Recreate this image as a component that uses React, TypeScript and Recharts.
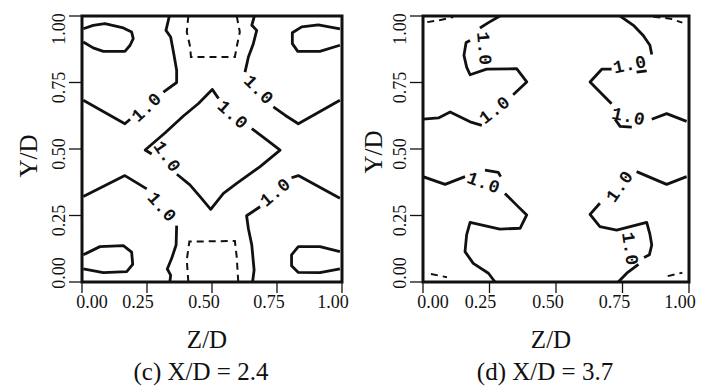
import {
  ComposedChart,
  Line,
  ReferenceArea,
  Scatter,
  XAxis,
  YAxis,
} from "recharts";

// contour level printed on every labelled line
const contourLevel = "1.0";
const axisTicks = [0, 0.25, 0.5, 0.75, 1];

// panel (c) X/D = 2.4 : [Z/D, Y/D] points along each contour piece
const cTopLeftIsland = [[0.005, 0.952], [0.043, 0.965], [0.088, 0.971], [0.159, 0.955], [0.191, 0.94], [0.197, 0.915], [0.185, 0.89], [0.165, 0.867], [0.082, 0.867], [0.043, 0.88], [0.005, 0.902]];
const cTopRightIsland = [[0.992, 0.952], [0.909, 0.967], [0.845, 0.959], [0.809, 0.937], [0.809, 0.896], [0.83, 0.867], [0.915, 0.867], [0.992, 0.89]];
const cBottomLeftIsland = [[0.005, 0.102], [0.069, 0.133], [0.159, 0.137], [0.191, 0.112], [0.195, 0.066], [0.172, 0.039], [0.082, 0.035], [0.005, 0.049]];
const cBottomRightIsland = [[0.992, 0.114], [0.915, 0.133], [0.832, 0.133], [0.806, 0.102], [0.806, 0.061], [0.832, 0.036], [0.915, 0.035], [0.992, 0.049]];
const cTopLeftUpper = [[0.336, 1.0], [0.323, 0.946], [0.341, 0.921], [0.354, 0.852], [0.364, 0.796], [0.364, 0.75], [0.313, 0.714]];
const cTopLeftLower = [[0.185, 0.612], [0.165, 0.595], [0.005, 0.683]];
const cTopRightUpper = [[0.663, 1.0], [0.653, 0.965], [0.672, 0.946], [0.659, 0.896], [0.64, 0.846], [0.627, 0.789]];
const cTopRightLower = [[0.736, 0.658], [0.781, 0.627], [0.832, 0.595], [0.992, 0.683]];
const cBottomLeftUpper = [[0.005, 0.321], [0.165, 0.4], [0.249, 0.35]];
const cBottomLeftLower = [[0.364, 0.212], [0.362, 0.139], [0.345, 0.089], [0.328, 0.049], [0.341, 0.026], [0.338, 0.0]];
const cBottomRightLower = [[0.656, 0.0], [0.662, 0.045], [0.653, 0.139], [0.64, 0.2], [0.633, 0.249], [0.685, 0.283]];
const cBottomRightUpper = [[0.806, 0.392], [0.832, 0.4], [0.992, 0.315]];
const cDiamondLower = [[0.365, 0.405], [0.415, 0.365], [0.454, 0.321], [0.495, 0.273], [0.544, 0.333], [0.595, 0.371], [0.685, 0.434], [0.762, 0.496], [0.703, 0.54], [0.653, 0.577]];
const cDiamondUpper = [[0.525, 0.69], [0.501, 0.724], [0.448, 0.671], [0.39, 0.624], [0.32, 0.561], [0.243, 0.496], [0.268, 0.481]];
const cTopDashed = [[0.409, 1.0], [0.403, 0.94], [0.416, 0.884], [0.419, 0.846], [0.588, 0.846], [0.595, 0.884], [0.607, 0.94], [0.595, 1.0]];
const cBottomDashed = [[0.409, 0.0], [0.403, 0.083], [0.413, 0.152], [0.588, 0.154], [0.595, 0.095], [0.601, 0.0]];
// [Z/D, Y/D, text angle]
const cLabels = [[0.25, 0.655, -43], [0.678, 0.721, 45], [0.306, 0.28, 48], [0.745, 0.335, -40], [0.325, 0.47, 55], [0.578, 0.627, 42]];

// panel (d) X/D = 3.7
const dTopLeftA = [[0.289, 1.0], [0.246, 0.975], [0.214, 0.955]];
const dTopLeftB = [[0.177, 0.908], [0.162, 0.9], [0.154, 0.852], [0.164, 0.808], [0.177, 0.779], [0.239, 0.8], [0.352, 0.802], [0.39, 0.752], [0.339, 0.704]];
const dTopLeftC = [[0.221, 0.589], [0.177, 0.602], [0.102, 0.639], [0.058, 0.617], [0.0, 0.612]];
const dTopRightA = [[0.741, 1.0], [0.791, 0.965], [0.828, 0.927], [0.853, 0.89], [0.86, 0.855]];
const dTopRightHook = [[0.803, 0.789], [0.841, 0.794]];
const dTopRightB = [[0.709, 0.8], [0.672, 0.8], [0.628, 0.752], [0.709, 0.67]];
const dTopRightC = [[0.86, 0.612], [0.916, 0.633], [0.991, 0.604]];
const dTopRightArc = [[0.722, 0.612], [0.741, 0.585], [0.785, 0.582]];
const dBottomLeftA = [[0.0, 0.396], [0.083, 0.367], [0.158, 0.396]];
const dBottomLeftHook = [[0.233, 0.421], [0.283, 0.412], [0.292, 0.396]];
const dBottomLeftB = [[0.308, 0.333], [0.352, 0.289], [0.39, 0.252], [0.365, 0.202], [0.289, 0.199], [0.177, 0.224], [0.164, 0.177], [0.158, 0.114], [0.189, 0.07], [0.246, 0.033], [0.271, 0.0]];
const dBottomRightA = [[0.991, 0.396], [0.916, 0.367], [0.803, 0.415]];
const dBottomRightB = [[0.665, 0.296], [0.628, 0.254], [0.665, 0.208], [0.728, 0.195], [0.841, 0.224], [0.853, 0.18], [0.86, 0.139], [0.851, 0.102], [0.831, 0.092]];
const dBottomRightC = [[0.81, 0.066], [0.766, 0.033], [0.734, 0.0]];
const dTopLeftDashed = [[0.016, 0.977], [0.07, 0.986], [0.114, 0.996]];
const dTopRightDashed = [[0.866, 0.997], [0.93, 0.99], [0.975, 0.975]];
const dBottomLeftDashed = [[0.03, 0.03], [0.09, 0.018]];
const dBottomRightDashed = [[0.92, 0.022], [0.975, 0.035]];
const dLabels = [[0.227, 0.877, 85], [0.271, 0.645, -38], [0.778, 0.815, -12], [0.772, 0.62, 12], [0.227, 0.371, 20], [0.741, 0.358, -55], [0.776, 0.124, 82]];

const toPoints = (pairs: number[][]) => pairs.map(([z, y]) => ({ z, y }));
const toLabels = (rows: number[][]) => rows.map(([z, y, angle]) => ({ z, y, angle }));

const panelC = {
  solid: [cTopLeftIsland, cTopRightIsland, cBottomLeftIsland, cBottomRightIsland, cTopLeftUpper, cTopLeftLower, cTopRightUpper, cTopRightLower, cBottomLeftUpper, cBottomLeftLower, cBottomRightLower, cBottomRightUpper, cDiamondLower, cDiamondUpper],
  dashed: [cTopDashed, cBottomDashed],
  labels: cLabels,
};

const panelD = {
  solid: [dTopLeftA, dTopLeftB, dTopLeftC, dTopRightA, dTopRightHook, dTopRightB, dTopRightC, dTopRightArc, dBottomLeftA, dBottomLeftHook, dBottomLeftB, dBottomRightA, dBottomRightB, dBottomRightC],
  dashed: [dTopLeftDashed, dTopRightDashed, dBottomLeftDashed, dBottomRightDashed],
  labels: dLabels,
};

const serif = "'Liberation Serif', 'Times New Roman', serif";
const ink = "#111";
const xTickShift = [10, -9, -8, -8, -9];
const yTickShift = [-9, 5, 5, 5, 13];

function XTick(props: any) {
  const { x, y, payload, index } = props;
  return (
    <text x={x + xTickShift[index]} y={y + 13} textAnchor="middle" fontSize={18} fontFamily={serif} fill={ink}>
      {Number(payload.value).toFixed(2)}
    </text>
  );
}

function YTick(props: any) {
  const { x, y, payload, index } = props;
  const tx = x - 4;
  const ty = y + yTickShift[index];
  return (
    <text x={tx} y={ty} transform={`rotate(-90 ${tx} ${ty})`} textAnchor="middle" fontSize={18} fontFamily={serif} fill={ink}>
      {Number(payload.value).toFixed(2)}
    </text>
  );
}

function ContourLabel(props: any) {
  const { cx, cy, payload } = props;
  return (
    <text
      x={cx}
      y={cy}
      transform={`rotate(${payload.angle} ${cx} ${cy})`}
      textAnchor="middle"
      dominantBaseline="central"
      fontSize={18}
      fontWeight="bold"
      letterSpacing={0.5}
      fontFamily="'Liberation Mono', monospace"
      fill={ink}
    >
      {contourLevel}
    </text>
  );
}

interface PanelProps {
  panel: { solid: number[][][]; dashed: number[][][]; labels: number[][] };
  width: number;
  marginLeft: number;
  marginRight: number;
}

function ContourPanel({ panel, width, marginLeft, marginRight }: PanelProps) {
  return (
    <ComposedChart width={width} height={389} margin={{ top: 16, left: marginLeft, right: marginRight, bottom: 77 }}>
      <XAxis
        dataKey="z"
        type="number"
        domain={[0, 1]}
        ticks={axisTicks}
        allowDataOverflow
        axisLine={false}
        tickLine={{ stroke: ink, strokeWidth: 1.3 }}
        tickSize={11}
        tickMargin={2}
        height={30}
        tick={<XTick />}
      />
      <YAxis
        dataKey="y"
        type="number"
        domain={[0, 1]}
        ticks={axisTicks}
        allowDataOverflow
        axisLine={false}
        tickLine={{ stroke: ink, strokeWidth: 1.3 }}
        tickSize={13}
        tickMargin={0}
        width={30}
        tick={<YTick />}
      />
      {panel.solid.map((pts, i) => (
        <Line
          key={`s${i}`}
          data={toPoints(pts)}
          dataKey="y"
          type="linear"
          stroke={ink}
          strokeWidth={2.8}
          strokeLinejoin="round"
          dot={false}
          activeDot={false}
          legendType="none"
          isAnimationActive={false}
        />
      ))}
      {panel.dashed.map((pts, i) => (
        <Line
          key={`d${i}`}
          data={toPoints(pts)}
          dataKey="y"
          type="linear"
          stroke={ink}
          strokeWidth={2}
          strokeDasharray="7 5"
          dot={false}
          activeDot={false}
          legendType="none"
          isAnimationActive={false}
        />
      ))}
      <Scatter data={toLabels(panel.labels)} dataKey="y" shape={ContourLabel} isAnimationActive={false} />
      <ReferenceArea x1={0} x2={1} y1={0} y2={1} fill="none" stroke={ink} strokeWidth={3} ifOverflow="visible" />
    </ComposedChart>
  );
}

const textBase = {
  position: "absolute" as const,
  fontFamily: serif,
  color: ink,
  whiteSpace: "nowrap" as const,
  lineHeight: 1,
};

function Caption({ x, y, text, size, rotate }: { x: number; y: number; text: string; size: number; rotate?: boolean }) {
  return (
    <div
      style={{
        ...textBase,
        left: x,
        top: y,
        fontSize: size,
        transform: `translate(-50%, -50%)${rotate ? " rotate(-90deg)" : ""}`,
      }}
    >
      {text}
    </div>
  );
}

export default function App() {
  return (
    <div style={{ position: "absolute", left: 0, top: 0, width: 703, height: 389, background: "#fff", overflow: "hidden" }}>
      <div style={{ position: "absolute", left: 0, top: 0 }}>
        <ContourPanel panel={panelC} width={352} marginLeft={52} marginRight={10} />
      </div>
      <div style={{ position: "absolute", left: 352, top: 0 }}>
        <ContourPanel panel={panelD} width={351} marginLeft={41} marginRight={14} />
      </div>
      <Caption x={28} y={156} text="Y/D" size={25} rotate />
      <Caption x={373} y={152} text="Y/D" size={25} rotate />
      <Caption x={207} y={339} text="Z/D" size={25} />
      <Caption x={551} y={339} text="Z/D" size={25} />
      <Caption x={201} y={371} text="(c) X/D = 2.4" size={25} />
      <Caption x={545} y={371} text="(d) X/D = 3.7" size={25} />
    </div>
  );
}
